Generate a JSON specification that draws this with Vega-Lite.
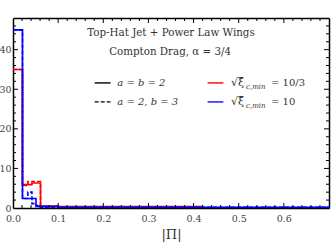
{
  "$schema": "https://vega.github.io/schema/vega-lite/v6.json",
  "autosize": "none",
  "width": 316,
  "height": 190,
  "padding": {"left": 13, "top": 18, "right": 3, "bottom": 41},
  "background": "white",
  "config": {"font": "DejaVu Serif", "axis": {"zindex": 1}},
  "datasets": {
    "hist": [
      {"x": 0, "y": 35, "dens": "a = b = 2", "xi": "10/3"},
      {"x": 0.021, "y": 5.9, "dens": "a = b = 2", "xi": "10/3"},
      {"x": 0.042, "y": 6.3, "dens": "a = b = 2", "xi": "10/3"},
      {"x": 0.061, "y": 0.5, "dens": "a = b = 2", "xi": "10/3"},
      {"x": 0.1, "y": 0.35, "dens": "a = b = 2", "xi": "10/3"},
      {"x": 0.42, "y": 0, "dens": "a = b = 2", "xi": "10/3"},
      {"x": 0.7, "y": 0, "dens": "a = b = 2", "xi": "10/3"},
      {"x": 0, "y": 35, "dens": "a = 2, b = 3", "xi": "10/3"},
      {"x": 0.021, "y": 5.7, "dens": "a = 2, b = 3", "xi": "10/3"},
      {"x": 0.033, "y": 6.7, "dens": "a = 2, b = 3", "xi": "10/3"},
      {"x": 0.061, "y": 0.3, "dens": "a = 2, b = 3", "xi": "10/3"},
      {"x": 0.42, "y": 0, "dens": "a = 2, b = 3", "xi": "10/3"},
      {"x": 0.7, "y": 0, "dens": "a = 2, b = 3", "xi": "10/3"},
      {"x": 0, "y": 45, "dens": "a = b = 2", "xi": "10"},
      {"x": 0.021, "y": 2.4, "dens": "a = b = 2", "xi": "10"},
      {"x": 0.051, "y": 0.4, "dens": "a = b = 2", "xi": "10"},
      {"x": 0.1, "y": 0.15, "dens": "a = b = 2", "xi": "10"},
      {"x": 0.7, "y": 0.15, "dens": "a = b = 2", "xi": "10"},
      {"x": 0, "y": 45, "dens": "a = 2, b = 3", "xi": "10"},
      {"x": 0.021, "y": 2.4, "dens": "a = 2, b = 3", "xi": "10"},
      {"x": 0.033, "y": 4.0, "dens": "a = 2, b = 3", "xi": "10"},
      {"x": 0.042, "y": 1.1, "dens": "a = 2, b = 3", "xi": "10"},
      {"x": 0.051, "y": 0.6, "dens": "a = 2, b = 3", "xi": "10"},
      {"x": 0.061, "y": 0.2, "dens": "a = 2, b = 3", "xi": "10"},
      {"x": 0.7, "y": 0.1, "dens": "a = 2, b = 3", "xi": "10"}
    ],
    "xmaj": [{"v": 0.1}, {"v": 0.2}, {"v": 0.3}, {"v": 0.4}, {"v": 0.5}, {"v": 0.6}],
    "xmin": [{"v": 0.02}, {"v": 0.04}, {"v": 0.06}, {"v": 0.08}, {"v": 0.12}, {"v": 0.14}, {"v": 0.16}, {"v": 0.18}, {"v": 0.22}, {"v": 0.24}, {"v": 0.26}, {"v": 0.28}, {"v": 0.32}, {"v": 0.34}, {"v": 0.36}, {"v": 0.38}, {"v": 0.42}, {"v": 0.44}, {"v": 0.46}, {"v": 0.48}, {"v": 0.52}, {"v": 0.54}, {"v": 0.56}, {"v": 0.58}, {"v": 0.62}, {"v": 0.64}, {"v": 0.66}, {"v": 0.68}],
    "ymaj": [{"v": 10}, {"v": 20}, {"v": 30}, {"v": 40}],
    "ymin": [{"v": 2}, {"v": 4}, {"v": 6}, {"v": 8}, {"v": 12}, {"v": 14}, {"v": 16}, {"v": 18}, {"v": 22}, {"v": 24}, {"v": 26}, {"v": 28}, {"v": 32}, {"v": 34}, {"v": 36}, {"v": 38}, {"v": 42}, {"v": 44}, {"v": 46}],
    "one": [{}]
  },
  "resolve": {"axis": {"x": "independent", "y": "independent"}},
  "layer": [
    {
      "data": {"name": "hist"},
      "mark": {"type": "line", "interpolate": "step-after", "strokeWidth": 1.6, "clip": true},
      "encoding": {
        "x": {"field": "x", "type": "quantitative",
          "scale": {"domain": [0, 0.7], "nice": false, "zero": false},
          "axis": {"orient": "bottom",
            "values": [0, 0.1, 0.2, 0.3, 0.4, 0.5, 0.6],
            "format": ".1f", "ticks": false, "domainColor": "black", "domainWidth": 1.5, "grid": false,
            "labelFont": "DejaVu Serif", "labelFontSize": 9.5, "labelColor": "#444",
            "labelPadding": 5, "labelFlush": false,
            "title": "|Π|", "titleFont": "DejaVu Serif", "titleFontSize": 13, "titleFontWeight": "normal", "titleColor": "#333", "titlePadding": 6}},
        "y": {"field": "y", "type": "quantitative",
          "scale": {"domain": [0, 48], "nice": false},
          "axis": {"orient": "left",
            "values": [0, 10, 20, 30, 40], "ticks": false, "domainColor": "black", "domainWidth": 1.5, "grid": false,
            "labelFont": "DejaVu Serif", "labelFontSize": 9.5, "labelColor": "#444",
            "labelPadding": 2, "labelFlush": false, "title": null}},
        "color": {"field": "xi", "type": "nominal", "scale": {"domain": ["10/3", "10"], "range": ["#ff0000", "#0000ff"]}, "legend": null},
        "strokeDash": {"field": "dens", "type": "nominal", "scale": {"domain": ["a = b = 2", "a = 2, b = 3"], "range": [[1, 0], [4, 2]]}, "legend": null}
      }
    },
    {
      "data": {"name": "hist"},
      "mark": {"type": "line", "opacity": 0},
      "encoding": {
        "x": {"field": "x", "type": "quantitative",
          "axis": {"orient": "top", "labels": false, "ticks": false, "domainColor": "black", "domainWidth": 1.5, "grid": false, "title": null}},
        "y": {"field": "y", "type": "quantitative",
          "axis": {"orient": "right", "labels": false, "ticks": false, "domainColor": "black", "domainWidth": 1.5, "grid": false, "title": null}}
      }
    },
    {
      "data": {"name": "xmaj"},
      "mark": {"type": "tick", "orient": "vertical", "size": 5, "thickness": 1, "color": "black", "opacity": 1, "yOffset": -2.5},
      "encoding": {"x": {"field": "v", "type": "quantitative", "axis": null}, "y": {"datum": 0, "type": "quantitative", "axis": null}}
    },
    {
      "data": {"name": "xmaj"},
      "mark": {"type": "tick", "orient": "vertical", "size": 5, "thickness": 1, "color": "black", "opacity": 1, "yOffset": 2.5},
      "encoding": {"x": {"field": "v", "type": "quantitative", "axis": null}, "y": {"datum": 48, "type": "quantitative", "axis": null}}
    },
    {
      "data": {"name": "xmin"},
      "mark": {"type": "tick", "orient": "vertical", "size": 3, "thickness": 1, "color": "black", "opacity": 1, "yOffset": -1.5},
      "encoding": {"x": {"field": "v", "type": "quantitative", "axis": null}, "y": {"datum": 0, "type": "quantitative", "axis": null}}
    },
    {
      "data": {"name": "xmin"},
      "mark": {"type": "tick", "orient": "vertical", "size": 3, "thickness": 1, "color": "black", "opacity": 1, "yOffset": 1.5},
      "encoding": {"x": {"field": "v", "type": "quantitative", "axis": null}, "y": {"datum": 48, "type": "quantitative", "axis": null}}
    },
    {
      "data": {"name": "ymaj"},
      "mark": {"type": "tick", "orient": "horizontal", "size": 5, "thickness": 1, "color": "black", "opacity": 1, "xOffset": 2.5},
      "encoding": {"y": {"field": "v", "type": "quantitative", "axis": null}, "x": {"datum": 0, "type": "quantitative", "axis": null}}
    },
    {
      "data": {"name": "ymaj"},
      "mark": {"type": "tick", "orient": "horizontal", "size": 5, "thickness": 1, "color": "black", "opacity": 1, "xOffset": -2.5},
      "encoding": {"y": {"field": "v", "type": "quantitative", "axis": null}, "x": {"datum": 0.7, "type": "quantitative", "axis": null}}
    },
    {
      "data": {"name": "ymin"},
      "mark": {"type": "tick", "orient": "horizontal", "size": 3, "thickness": 1, "color": "black", "opacity": 1, "xOffset": 1.5},
      "encoding": {"y": {"field": "v", "type": "quantitative", "axis": null}, "x": {"datum": 0, "type": "quantitative", "axis": null}}
    },
    {
      "data": {"name": "ymin"},
      "mark": {"type": "tick", "orient": "horizontal", "size": 3, "thickness": 1, "color": "black", "opacity": 1, "xOffset": -1.5},
      "encoding": {"y": {"field": "v", "type": "quantitative", "axis": null}, "x": {"datum": 0.7, "type": "quantitative", "axis": null}}
    },
    {
      "data": {"name": "one"},
      "mark": {"type": "text", "text": "Top-Hat Jet + Power Law Wings", "font": "DejaVu Serif", "fontSize": 10.3, "color": "#333", "align": "center", "baseline": "middle"},
      "encoding": {"x": {"datum": 0.35, "type": "quantitative", "axis": null}, "y": {"datum": 44.1, "type": "quantitative", "axis": null}}
    },
    {
      "data": {"name": "one"},
      "mark": {"type": "text", "text": "Compton Drag,  α = 3/4", "font": "DejaVu Serif", "fontSize": 10.3, "color": "#333", "align": "center", "baseline": "middle"},
      "encoding": {"x": {"datum": 0.348, "type": "quantitative", "axis": null}, "y": {"datum": 39.3, "type": "quantitative", "axis": null}}
    },
    {
      "data": {"name": "one"},
      "mark": {"type": "rule", "color": "black", "strokeWidth": 1.4},
      "encoding": {"x": {"datum": 0.181, "type": "quantitative", "axis": null}, "x2": {"datum": 0.216}, "y": {"datum": 31.6, "type": "quantitative", "axis": null}}
    },
    {
      "data": {"name": "one"},
      "mark": {"type": "rule", "color": "black", "strokeWidth": 1.4, "strokeDash": [4, 2]},
      "encoding": {"x": {"datum": 0.181, "type": "quantitative", "axis": null}, "x2": {"datum": 0.216}, "y": {"datum": 26.8, "type": "quantitative", "axis": null}}
    },
    {
      "data": {"name": "one"},
      "mark": {"type": "text", "text": "a = b = 2", "font": "DejaVu Serif", "fontStyle": "italic", "fontSize": 10, "color": "#333", "align": "left", "baseline": "middle"},
      "encoding": {"x": {"datum": 0.231, "type": "quantitative", "axis": null}, "y": {"datum": 31.6, "type": "quantitative", "axis": null}}
    },
    {
      "data": {"name": "one"},
      "mark": {"type": "text", "text": "a = 2,  b = 3", "font": "DejaVu Serif", "fontStyle": "italic", "fontSize": 10, "color": "#333", "align": "left", "baseline": "middle"},
      "encoding": {"x": {"datum": 0.231, "type": "quantitative", "axis": null}, "y": {"datum": 26.8, "type": "quantitative", "axis": null}}
    },
    {
      "data": {"name": "one"},
      "mark": {"type": "rule", "color": "#ff0000", "strokeWidth": 1.4},
      "encoding": {"x": {"datum": 0.431, "type": "quantitative", "axis": null}, "x2": {"datum": 0.466}, "y": {"datum": 31.6, "type": "quantitative", "axis": null}}
    },
    {
      "data": {"name": "one"},
      "mark": {"type": "rule", "color": "#4444ff", "strokeWidth": 1.8},
      "encoding": {"x": {"datum": 0.431, "type": "quantitative", "axis": null}, "x2": {"datum": 0.466}, "y": {"datum": 26.8, "type": "quantitative", "axis": null}}
    },
    {
      "data": {"name": "one"},
      "mark": {"type": "text", "text": "√ξ̄", "font": "DejaVu Serif", "fontSize": 11, "color": "#333", "align": "left", "baseline": "middle"},
      "encoding": {"x": {"datum": 0.483, "type": "quantitative", "axis": null}, "y": {"datum": 31.6, "type": "quantitative", "axis": null}}
    },
    {
      "data": {"name": "one"},
      "mark": {"type": "text", "text": "√ξ̄", "font": "DejaVu Serif", "fontSize": 11, "color": "#333", "align": "left", "baseline": "middle"},
      "encoding": {"x": {"datum": 0.483, "type": "quantitative", "axis": null}, "y": {"datum": 26.8, "type": "quantitative", "axis": null}}
    },
    {
      "data": {"name": "one"},
      "mark": {"type": "text", "text": "c,min", "font": "DejaVu Serif", "fontStyle": "italic", "fontSize": 7, "color": "#333", "align": "left", "baseline": "middle", "dx": 15, "dy": 4},
      "encoding": {"x": {"datum": 0.483, "type": "quantitative", "axis": null}, "y": {"datum": 31.6, "type": "quantitative", "axis": null}}
    },
    {
      "data": {"name": "one"},
      "mark": {"type": "text", "text": "c,min", "font": "DejaVu Serif", "fontStyle": "italic", "fontSize": 7, "color": "#333", "align": "left", "baseline": "middle", "dx": 15, "dy": 4},
      "encoding": {"x": {"datum": 0.483, "type": "quantitative", "axis": null}, "y": {"datum": 26.8, "type": "quantitative", "axis": null}}
    },
    {
      "data": {"name": "one"},
      "mark": {"type": "text", "text": "= 10/3", "font": "DejaVu Serif", "fontSize": 10, "color": "#333", "align": "left", "baseline": "middle", "dx": 40},
      "encoding": {"x": {"datum": 0.483, "type": "quantitative", "axis": null}, "y": {"datum": 31.6, "type": "quantitative", "axis": null}}
    },
    {
      "data": {"name": "one"},
      "mark": {"type": "text", "text": "= 10", "font": "DejaVu Serif", "fontSize": 10, "color": "#333", "align": "left", "baseline": "middle", "dx": 40},
      "encoding": {"x": {"datum": 0.483, "type": "quantitative", "axis": null}, "y": {"datum": 26.8, "type": "quantitative", "axis": null}}
    }
  ]
}
